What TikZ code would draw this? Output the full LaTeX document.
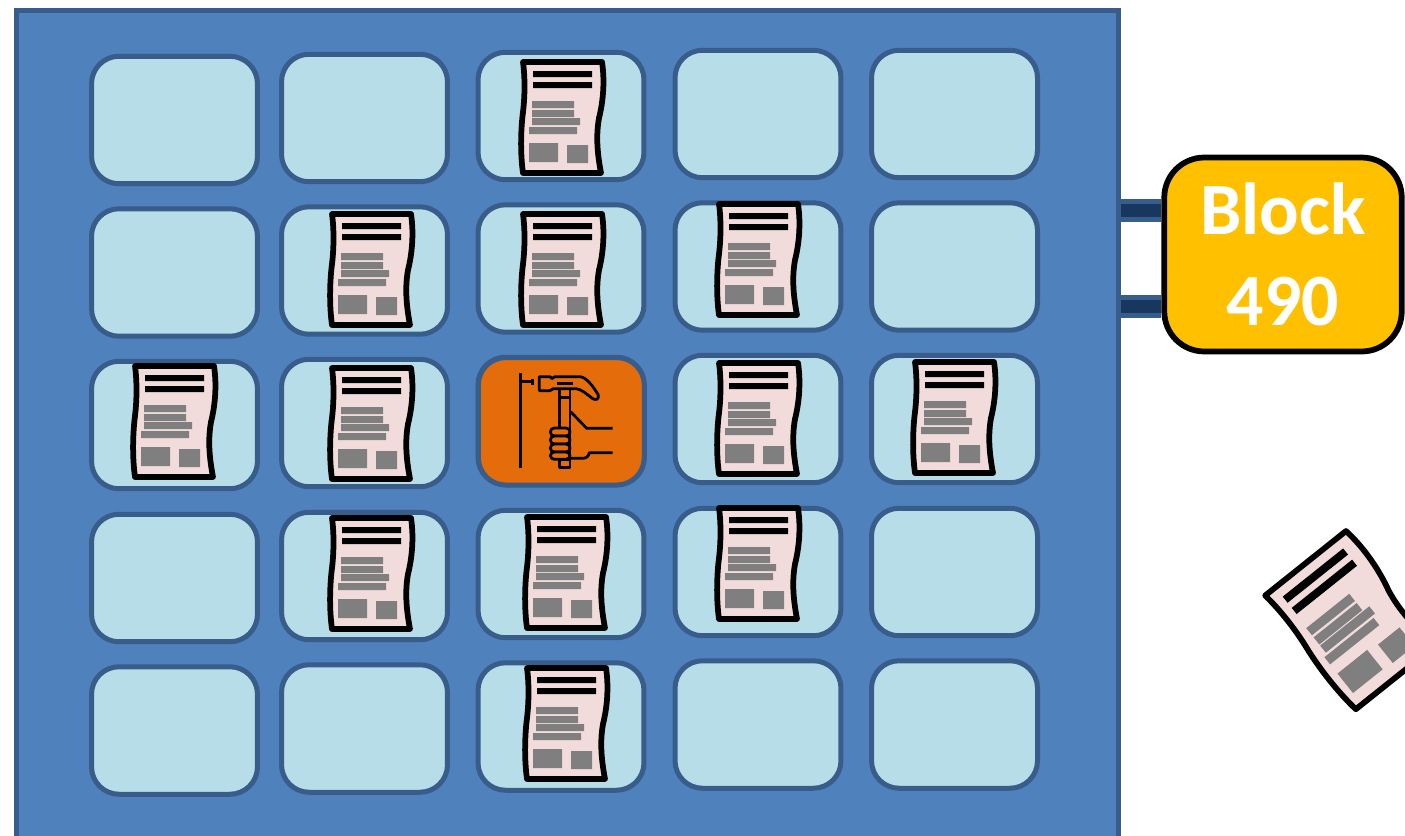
\documentclass[tikz,border=0pt]{standalone}
\usepackage{fontspec}
\setmainfont{Carlito}
\usetikzlibrary{positioning}
\definecolor{panelblue}{HTML}{4F81BD}
\definecolor{edgeblue}{HTML}{385D8A}
\definecolor{linkblue}{HTML}{17375E}
\definecolor{cellblue}{HTML}{B7DEE8}
\definecolor{toolorange}{HTML}{E46C0A}
\definecolor{blockgold}{HTML}{FFC000}
\definecolor{paperpink}{HTML}{F2DCDB}
\definecolor{inkgray}{HTML}{7F7F7F}
\tikzset{
  panelbox/.style={
    rectangle, inner sep=0pt,
    minimum width=22.05cm, minimum height=17.8cm,
    draw=edgeblue, fill=panelblue, line width=0.1cm
  },
  cellbox/.style={
    rectangle, rounded corners=0.55cm, inner sep=0pt,
    minimum width=3.32cm, minimum height=2.55cm,
    draw=edgeblue, fill=#1, line width=0.1cm
  },
  blockbox/.style={
    rectangle, rounded corners=0.8cm, inner sep=0pt,
    minimum width=4.75cm, minimum height=3.88cm,
    draw=black, fill=blockgold, line width=0.115cm,
    text=white, align=center,
    font=\fontsize{42}{51.5}\selectfont\bfseries
  },
  linkbar/.style={
    draw=edgeblue, line width=0.1cm,
    double=linkblue, double distance=0.26cm
  },
  toolline/.style={draw=black, line width=0.055cm, line join=round},
  docicon/.pic={
    \draw[fill=paperpink, line width=0.115cm, line join=round]
      (-39,-55) .. controls (-37,-40) and (-37,-22) .. (-39,-5)
      .. controls (-41,10) and (-42,35) .. (-39,56)
      -- (39,56) .. controls (35,35) and (34,18) .. (37,1)
      .. controls (41,-15) and (43,-35) .. (40,-55) -- cycle;
    \fill[black] (-29,-46) rectangle (30,-40) (-29,-35) rectangle (30,-29);
    \fill[inkgray] (-30,-16) rectangle (12,-9) (-30,-7) rectangle (12,0)
      (-30,1) rectangle (18,8) (-33,10) rectangle (15,17)
      (-33,26) rectangle (-4,45) (5,28) rectangle (26,46);
  },
  hammericon/.pic={
    \draw[toolline] (151,98) -- (151,383) (151,125) -- (188,125) (188,116) -- (188,134);
    \draw[toolline] (208,110) -- (240,110) -- (246,116) -- (254,110) -- (330,110)
      .. controls (350,112) and (370,140) .. (385,165)
      .. controls (387,178) and (378,182) .. (368,176)
      .. controls (350,162) and (335,148) .. (318,146)
      -- (250,146) -- (240,152) -- (208,152) -- cycle;
    \draw[toolline] (262,130) -- (310,130);
    \draw[toolline] (268,148) -- (268,383) -- (300,383) -- (300,148);
    \draw[toolline] (268,172) -- (300,172) (268,360) -- (300,360);
    \foreach \t/\b in {264/288, 288/312, 312/336, 336/358}
      \draw[toolline, fill=toolorange, rounded corners=0.08cm] (241,\t) rectangle (300,\b);
    \draw[toolline] (302,215) -- (350,265) -- (428,265);
    \draw[toolline] (302,355) -- (338,355) .. controls (350,355) and (356,348) .. (358,338) -- (428,338);
  }
}
\begin{document}
\begin{tikzpicture}[x=0.02cm, y=-0.02cm]
    \useasboundingbox (0,0) rectangle (1405,835);
    \clip (0,0) rectangle (1405,835);

    \node[panelbox] (panel) at (567.25,455) {};

    % grid of cells, each column sits a little higher than the last
    \foreach \c/\x/\dy in {1/174.5/6, 2/364.5/4, 3/561/2, 4/758/0, 5/954.5/0}
      \foreach \r/\y in {1/114, 2/266.5, 3/419, 4/572, 5/724.5}
        \node[cellbox=cellblue] (cell\r\c) at (\x,\y+\dy) {};

    \node[cellbox=toolorange] (toolcell) at (561.3,421.3) {};
    \pic[scale=1/3] at (470,340) {hammericon};

    \foreach \x/\y in {562/117, 371/269, 562/269, 758/259, 174/421, 371/423,
                       758/418, 954/417, 371/573, 566/572, 758/563, 566/723}
      \pic at (\x,\y) {docicon};

    \pic[rotate=38.6, scale=1.31] at (1350,620) {docicon};

    \node[blockbox] (block) at (1283,254.5) {Block\\490};

    \coordinate (linka) at (1140,210.5);
    \coordinate (linkb) at (1140,306.5);
    \foreach \a in {linka, linkb}
      \draw[linkbar] (panel.east |- \a) -- (block.west |- \a);

  \end{tikzpicture}
\end{document}
